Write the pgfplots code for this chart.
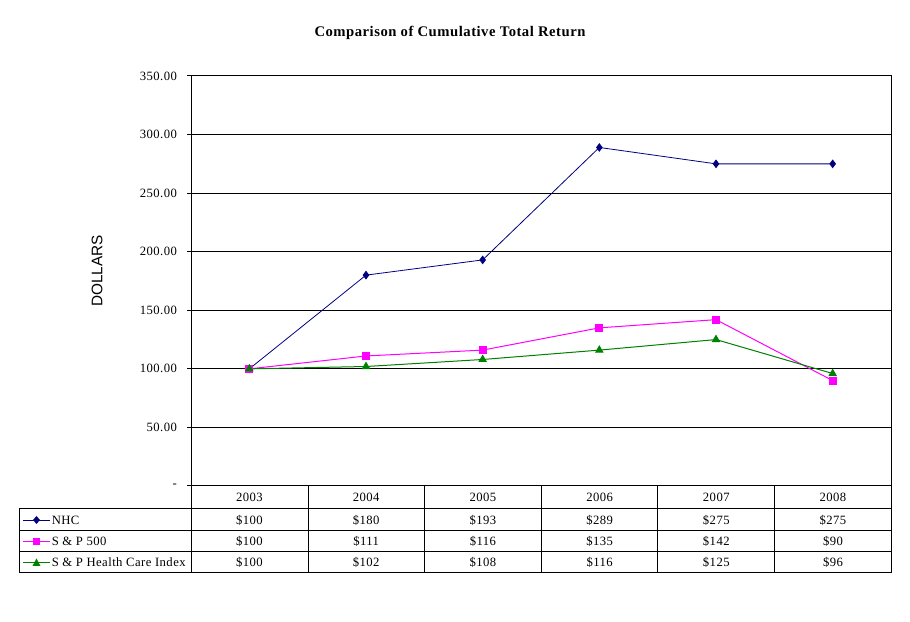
\documentclass[border=0pt]{standalone}
\usepackage{pgfplots}
\pgfplotsset{compat=1.18}
\usepackage{fontspec}
\setmainfont[LetterSpace=3.5]{Liberation Serif}
\newfontfamily\arialfont{Liberation Sans}
\definecolor{nhc}{RGB}{0,0,128}
\definecolor{sp}{RGB}{255,0,255}
\definecolor{hc}{RGB}{0,128,0}
\begin{document}
\begin{tikzpicture}
\useasboundingbox (0,0) rectangle (682.5pt,465.75pt);
\begin{axis}[
  at={(143.25pt,101.25pt)}, anchor=south west,
  scale only axis, width=525pt, height=307.5pt,
  xmin=-0.5, xmax=5.5, ymin=0, ymax=350,
  xtick=\empty,
  ytick={0,50,100,150,200,250,300,350},
  yticklabels={-,50.00,100.00,150.00,200.00,250.00,300.00,350.00},
  yticklabel style={font=\fontsize{9.5}{11}\selectfont, xshift=-4pt},
  tick align=outside, major tick length=3pt,
  ytick pos=left,
  ymajorgrids, grid style={black, line width=0.75pt},
  axis line style={black, line width=0.75pt},
  tick style={black, line width=0.75pt},
  clip=false,
]
\addplot[nhc, line width=0.6pt, mark=diamond*, mark size=2.8pt, mark options={solid}] coordinates {(0,100) (1,180) (2,193) (3,289) (4,275) (5,275)};
\addplot[sp, line width=0.75pt, mark=square*, mark size=2.6pt] coordinates {(0,100) (1,111) (2,116) (3,135) (4,142) (5,90)};
\addplot[hc, line width=0.75pt, mark=triangle*, mark size=3pt] coordinates {(0,100) (1,102) (2,108) (3,116) (4,125) (5,96)};
\end{axis}
\node[font=\bfseries\fontsize{11}{13}\selectfont] at ({450*0.75pt},{(621-33)*0.75pt}) {Comparison of Cumulative Total Return};
\node[font=\arialfont\fontsize{11.5}{13}\selectfont, rotate=90] at ({97*0.75pt},{(621-271)*0.75pt}) {DOLLARS};
\begin{scope}[x=0.75pt, y=-0.75pt, yshift=465.75pt, line width=0.75pt]
  % table lines
  \foreach \yy in {509,531,552,573} \draw (19,\yy) -- (891,\yy);
  \draw (19,509) -- (19,573);
  \draw (191,486) -- (191,573);
  \foreach \xx in {308,424,541,657,774} \draw (\xx,486) -- (\xx,573);
  \draw (891,486) -- (891,573);
  % header
  \foreach \lab [count=\i from 0] in {2003,2004,2005,2006,2007,2008}
    \node[font=\fontsize{9.5}{11}\selectfont] at ({249.5+116.7*\i},497.5) {\lab};
  % rows
  \foreach \lab [count=\i from 0] in {\$100,\$180,\$193,\$289,\$275,\$275}
    \node[font=\fontsize{9.5}{11}\selectfont] at ({249.5+116.7*\i},520) {\lab};
  \foreach \lab [count=\i from 0] in {\$100,\$111,\$116,\$135,\$142,\$90}
    \node[font=\fontsize{9.5}{11}\selectfont] at ({249.5+116.7*\i},541.5) {\lab};
  \foreach \lab [count=\i from 0] in {\$100,\$102,\$108,\$116,\$125,\$96}
    \node[font=\fontsize{9.5}{11}\selectfont] at ({249.5+116.7*\i},562.5) {\lab};
  % legend keys
  \draw[nhc, line width=0.6pt] (23,520) -- (50,520);
  \fill[nhc] (36.5,516) -- (40,520) -- (36.5,524) -- (33,520) -- cycle;
  \draw[sp, line width=0.75pt] (23,541.5) -- (50,541.5);
  \fill[sp] (33,538) rectangle (40,545);
  \draw[hc, line width=0.75pt] (23,562.5) -- (50,562.5);
  \fill[hc] (32.5,566) -- (36.5,558.5) -- (40.5,566) -- cycle;
  \node[font=\fontsize{9.5}{11}\selectfont, anchor=west, inner xsep=1pt] at (50,520) {NHC};
  \node[font=\fontsize{9.5}{11}\selectfont, anchor=west, inner xsep=1pt] at (50,541.5) {S \& P 500};
  \node[font=\fontsize{9.5}{11}\selectfont, anchor=west, inner xsep=1pt] at (50,562.5) {S \& P Health Care Index};
\end{scope}
\end{tikzpicture}
\end{document}
